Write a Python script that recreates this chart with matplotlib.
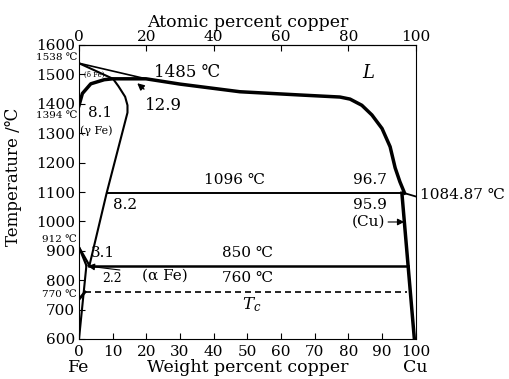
import numpy as np
import matplotlib.pyplot as plt

plt.rcParams['font.family'] = ['DejaVu Serif', 'DejaVu Sans']
plt.rcParams['mathtext.fontset'] = 'dejavuserif'

# Fe-Cu phase diagram, weight percent copper vs temperature (degC)
# liquidus of delta-Fe
liq_delta_x = [0, 19.9]
liq_delta_t = [1538, 1485]

# gamma loop, peritectic line at 1485 and liquidus down to the 1096 peritectic
liq_x = [0, 1.0, 3.5, 7.5, 10.0, 19.9, 30, 47.8, 65.6, 77.5, 80.5, 84, 87, 90, 92.4, 93.9, 95.3, 96.7]
liq_t = [1394, 1435, 1468, 1482, 1485, 1485, 1467, 1441, 1430, 1423, 1416, 1395, 1362, 1316,
         1254, 1182, 1135, 1096]

# solidus / solvus of (gamma Fe)
gam_x = [0, 10.1, 11.7, 13.7, 14.4, 14.4, 8.2, 3.1]
gam_t = [1538, 1485, 1460, 1424, 1395, 1370, 1096, 850]

# solvus of (alpha Fe)
alp_x = [2.2, 0]
alp_t = [850, 600]

# gamma/alpha boundaries from 912
a3_x1 = [0, 3.1]
a3_x2 = [0, 2.2]
a3_t = [912, 850]

# magnetic transition in alpha
curie_x = [0, 1.8]
curie_t = [735, 760]

# copper side
cu_liq_x = [96.7, 100]
cu_liq_t = [1096, 1084.87]
cu_sol_x = [95.9, 99.6]
cu_sol_t = [1096, 600]

# isotherms
t_peri = 1096
peri_x = [8.2, 96.7]
t_eut = 850
eut_x0 = 3.1
t_mag = 760
mag_x = [1.8, 97.3]

wt_ticks = list(range(0, 101, 10))
at_ticks = list(range(0, 101, 20))
t_ticks = list(range(600, 1601, 100))

fig = plt.figure(figsize=(5.1, 3.79), dpi=100)
ax = fig.add_axes([79 / 510, 1 - 339 / 379, 336.7 / 510, 294 / 379])

k = 'black'
ax.plot(liq_delta_x, liq_delta_t, color=k, lw=1.2)
ax.plot(liq_x, liq_t, color=k, lw=2.5, solid_joinstyle='round')
ax.plot(gam_x, gam_t, color=k, lw=1.5, solid_joinstyle='round')
ax.plot(alp_x, alp_t, color=k, lw=1.5)
ax.plot(a3_x1, a3_t, color=k, lw=1.6)
ax.plot(a3_x2, a3_t, color=k, lw=1.6)
ax.plot(curie_x, curie_t, color=k, lw=2)
ax.plot(cu_liq_x, cu_liq_t, color=k, lw=1.3, clip_on=False)
ax.plot(cu_sol_x, cu_sol_t, color=k, lw=2.5)

ax.plot(peri_x, [t_peri, t_peri], color=k, lw=1.4)
eut_x1 = np.interp(t_eut, cu_sol_t[::-1], cu_sol_x[::-1])
ax.plot([eut_x0, eut_x1], [t_eut, t_eut], color=k, lw=1.8)
ax.plot(mag_x, [t_mag, t_mag], color=k, lw=1.2, dashes=(3.6, 2.4))

ax.set_xlim(0, 100)
ax.set_ylim(600, 1600)
ax.set_xticks(wt_ticks)
ax.set_yticks(t_ticks)
ax.tick_params(direction='in', length=4, width=0.8, labelsize=11)
ax.tick_params(axis='x', pad=4)
ax.tick_params(axis='y', pad=3)
for s in ax.spines.values():
    s.set_linewidth(0.8)

ax.set_xlabel('Weight percent copper', fontsize=12.5, labelpad=0)
ax.set_ylabel('Temperature /℃', fontsize=12)
ax.yaxis.set_label_coords(-0.17, 0.55)

top = ax.secondary_xaxis('top')
top.set_xticks(at_ticks)
top.tick_params(direction='in', length=4, width=0.8, labelsize=11, pad=1)
top.set_xlabel('Atomic percent copper', fontsize=12.5, labelpad=2)

# labels on the Fe axis
small = dict(fontsize=7.5, ha='right', va='center', clip_on=False)
ax.text(-0.6, 1557, '1538 ℃', **small)
ax.text(-0.6, 1360, '1394 ℃', **small)
ax.text(-0.6, 940, '912 ℃', **small)
ax.text(-0.6, 750, '770 ℃', **small)
ax.text(0, -0.097, 'Fe', transform=ax.transAxes, fontsize=12.5, ha='center', va='center')
ax.text(1.0, -0.097, 'Cu', transform=ax.transAxes, fontsize=12.5, ha='center', va='center')

# annotations inside the diagram
ax.text(1.5, 1500, '(δ Fe)', fontsize=5, va='center')
ax.text(6.2, 1369, '8.1', fontsize=11, ha='center', va='center')
ax.text(0.4, 1307, '(γ Fe)', fontsize=8, va='center')
ax.text(32, 1505, '1485 ℃', fontsize=12, ha='center', va='center')
ax.text(85.8, 1505, 'L', fontsize=13, style='italic', ha='center', va='center')
ax.annotate('12.9', xy=(17.3, 1470), xytext=(25, 1393), fontsize=12, ha='center', va='center',
            arrowprops=dict(arrowstyle='-|>', color=k, lw=1, mutation_scale=10,
                            shrinkA=6, shrinkB=0))
ax.text(46.3, 1141, '1096 ℃', fontsize=11, ha='center', va='center')
ax.text(86.5, 1141, '96.7', fontsize=11, ha='center', va='center')
ax.text(13.7, 1056, '8.2', fontsize=11, ha='center', va='center')
ax.text(86.5, 1056, '95.9', fontsize=11, ha='center', va='center')
ax.annotate('(Cu)', xy=(96.6, 998), xytext=(86, 998), fontsize=11, ha='center', va='center',
            arrowprops=dict(arrowstyle='-|>', color=k, lw=0.8, mutation_scale=10,
                            shrinkA=0, shrinkB=0))
ax.text(101.3, 1090, '1084.87 ℃', fontsize=11, va='center', clip_on=False)
ax.text(7.1, 891, '3.1', fontsize=11, ha='center', va='center')
ax.text(50, 891, '850 ℃', fontsize=11, ha='center', va='center')
ax.annotate('(α Fe)', xy=(2.6, 848), xytext=(25.5, 816), fontsize=11, ha='center', va='center',
            arrowprops=dict(arrowstyle='-|>', color=k, lw=0.8, mutation_scale=10,
                            shrinkA=14, shrinkB=0))
ax.text(9.8, 806, '2.2', fontsize=9, ha='center', va='center')
ax.text(50, 808, '760 ℃', fontsize=11, ha='center', va='center')
ax.text(51.4, 716, '$T_c$', fontsize=12, ha='center', va='center')

plt.savefig('out.png', dpi=100)
